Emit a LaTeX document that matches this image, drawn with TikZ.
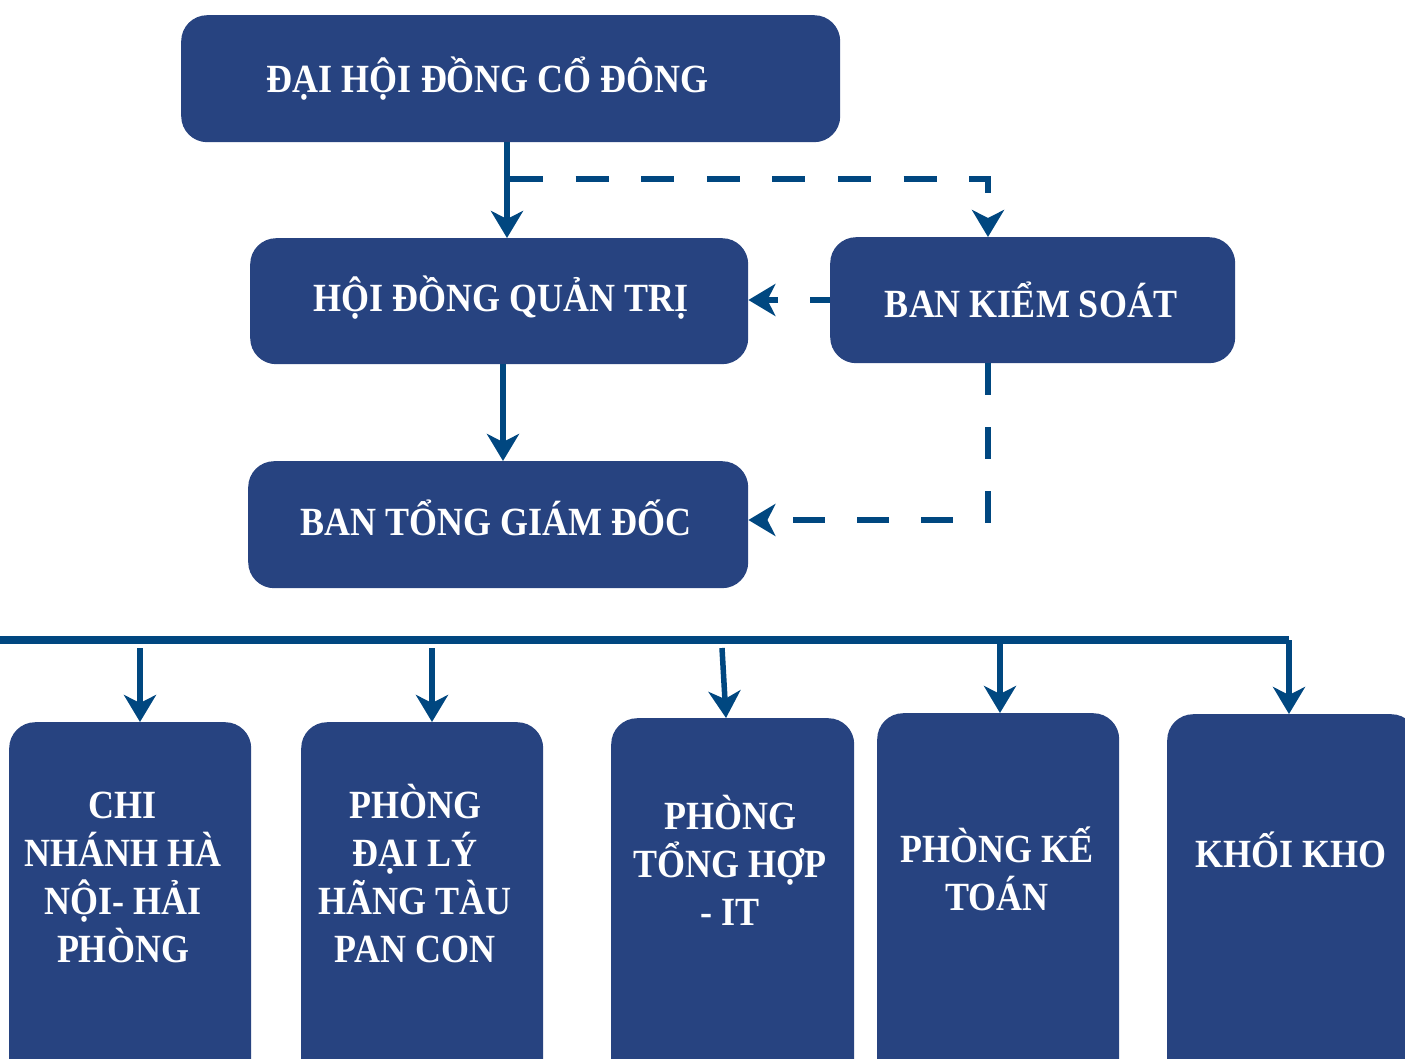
\documentclass[tikz,border=0pt]{standalone}
\usepackage{fontspec}
\setmainfont{Liberation Serif}[FakeStretch=0.9]
\usetikzlibrary{arrows.meta}
\definecolor{boxblue}{RGB}{39,67,128}
\definecolor{lineblue}{RGB}{0,71,128}
\begin{document}
\begin{tikzpicture}[x=1pt,y=-1pt,
  box/.style={fill=boxblue, rounded corners=26pt, inner sep=0pt, anchor=north west},
  lbl/.style={text=white, font=\fontsize{40}{48}\selectfont\bfseries, align=center, anchor=base, inner sep=0pt},
  tip/.style={-{Stealth[length=27pt,width=32pt,inset=8pt]}},
  solidarrow/.style={draw=lineblue, line width=6pt, tip},
  dasharrow/.style={draw=lineblue, line width=6pt, dash pattern=on 32pt off 32pt, tip},
  busline/.style={draw=lineblue, line width=8pt},
  droparrow/.style={draw=lineblue, line width=5.5pt, tip}
]
\useasboundingbox (0,0) rectangle (1405,1059);
\clip (0,0) rectangle (1405,1059);
% main boxes
\node[box, minimum width=659pt, minimum height=127pt] (dhd) at (181,15) {};
\node[box, minimum width=498pt, minimum height=126pt] (hdqt) at (250,238) {};
\node[box, minimum width=405pt, minimum height=126pt] (bks) at (830,237) {};
\node[box, minimum width=500pt, minimum height=127pt] (btgd) at (248,461) {};
\node[lbl] (tdhd) at (488,93) {ĐẠI HỘI ĐỒNG CỔ ĐÔNG};
\node[lbl] (thdqt) at (501,312) {HỘI ĐỒNG QUẢN TRỊ};
\node[lbl] (tbks) at (1031,317) {BAN KIỂM SOÁT};
\node[lbl] (tbtgd) at (496,535) {BAN TỔNG GIÁM ĐỐC};
% bottom boxes
\node[box, minimum width=242pt, minimum height=380pt] (b1) at (9,722) {};
\node[box, minimum width=242pt, minimum height=380pt] (b2) at (301,722) {};
\node[box, minimum width=243pt, minimum height=380pt] (b3) at (611,718) {};
\node[box, minimum width=242pt, minimum height=380pt] (b4) at (877,713) {};
\node[box, minimum width=250pt, minimum height=380pt] (b5) at (1167,714) {};
% multi-line labels: anchor=base sits on the last line's baseline
\node[lbl] (t1) at (123,962) {CHI\\NHÁNH HÀ\\NỘI- HẢI\\PHÒNG};
\node[lbl] (t2) at (415,962) {PHÒNG\\ĐẠI LÝ\\HÃNG TÀU\\PAN CON};
\node[lbl] (t3) at (730,925) {PHÒNG\\TỔNG HỢP\\- IT};
\node[lbl] (t4) at (997,910) {PHÒNG KẾ\\TOÁN};
\node[lbl] (t5) at (1291,867) {KHỐI KHO};
% coordinates
\coordinate (j1) at (507,179);
\coordinate (j2) at (988,179);
\coordinate (j3) at (503,0);
\coordinate (j4) at (988,520);
\coordinate (busL) at (0,640);
\coordinate (busR) at (1289,640);
\coordinate (busM) at (1000,640);
\coordinate (d1) at (140,648);
\coordinate (d2) at (432,648);
\coordinate (d3) at (722,648);
% connectors
\draw[solidarrow] (dhd.south -| j1) -- (hdqt.north -| j1);
\draw[dasharrow, dash pattern=on 33pt off 32.6pt] (510,179) -- (j2) -- (bks.north -| j2);
\draw[dasharrow, dash phase=12pt] (bks.west |- 0,300) -- (hdqt.east |- 0,300);
\draw[solidarrow] (hdqt.south -| j3) -- (btgd.north -| j3);
\draw[dasharrow] (bks.south -| j4) -- (j4) -- (btgd.east |- j4);
\draw[busline] (busL) -- (busR);
\draw[droparrow] (busR) -- (b5.north -| busR);
\draw[droparrow] (busM) -- (b4.north -| busM);
\draw[droparrow] (d1) -- (b1.north -| d1);
\draw[droparrow] (d2) -- (b2.north -| d2);
\draw[droparrow] (d3) -- (726,718);
\end{tikzpicture}
\end{document}
